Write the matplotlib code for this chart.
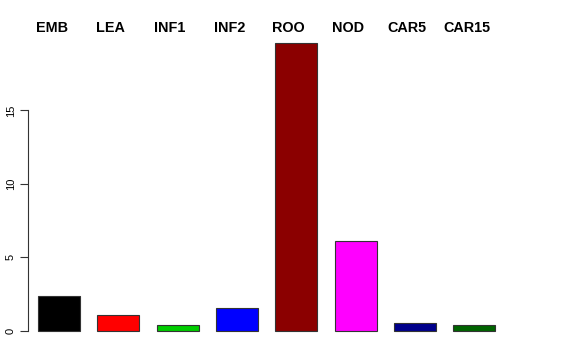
import matplotlib
matplotlib.use("Agg")
import matplotlib.pyplot as plt

categories = ["EMB", "LEA", "INF1", "INF2", "ROO", "NOD", "CAR5", "CAR15"]
values = [2.35, 1.06, 0.37, 1.53, 19.6, 6.1, 0.51, 0.37]
colors = ["#000000", "#FF0000", "#00CD00", "#0000FF", "#8B0000", "#FF00FF", "#00008B", "#006400"]
yticks = [0, 5, 10, 15]

W, H = 576, 360
fig = plt.figure(figsize=(W / 100, H / 100), dpi=100)
plt.rcParams['font.family'] = ['Liberation Sans', 'DejaVu Sans']

# axes in pixel geometry
left_px, right_px = 28, 510
bottom_px, top_px = 342, 32
ax = fig.add_axes([left_px / W, 1 - bottom_px / H, (right_px - left_px) / W, (bottom_px - top_px) / H])

pxu = 59.3  # pixels per bar step
x = list(range(len(categories)))
ax.bar(x, values, width=42 / pxu, color=colors, edgecolor="#333333", linewidth=0.8)

ppu_y = 14.67
ax.set_ylim(-(bottom_px - 330.5) / ppu_y, (330.5 - top_px) / ppu_y)
x0 = (59 - left_px) / pxu
ax.set_xlim(-x0, -x0 + (right_px - left_px) / pxu)

for s in ["top", "right", "bottom"]:
    ax.spines[s].set_visible(False)
ax.spines["left"].set_bounds(0, 15)
ax.spines["left"].set_color("#333333")
ax.set_xticks([])
ax.set_yticks(yticks)
ax.set_yticklabels([str(t) for t in yticks], rotation=90, va="center", fontsize=8)
ax.tick_params(axis="y", length=5.8, width=0.8, color="#333333", pad=3)

# category labels across the top, slightly left of each bar centre
for i, lab in enumerate(categories):
    ax.text(i - 7.5 / pxu, 1 - 28 / H, lab, transform=ax.get_xaxis_transform(),
            ha="center", va="center", fontsize=10.4, fontweight="bold")
# fix vertical position in figure coords
for t in ax.texts:
    t.set_transform(matplotlib.transforms.blended_transform_factory(ax.transData, fig.transFigure))

fig.savefig("out.png", dpi=100)
